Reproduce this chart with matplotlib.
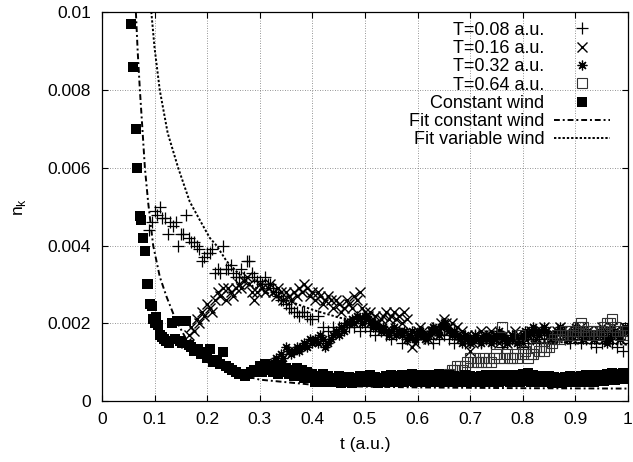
import numpy as np
import matplotlib
matplotlib.use("Agg")
import matplotlib.pyplot as plt

plt.rcParams["font.family"] = ["Liberation Sans", "DejaVu Sans"]

S = 1e-3  # values below are in units of 1e-3

# T=0.08 a.u. (+)
t08 = np.r_[np.arange(0.09, 0.3999, 0.005), np.arange(0.40, 1.0001, 0.01)]
n08 = np.array([
    4.4, 4.6, 4.9, 4.8, 5.0, 4.7, 4.7, 4.3, 4.6, 4.5,
    4.6, 4.0, 4.3, 4.3, 4.8, 4.2, 4.1, 4.1, 4.0, 3.9,
    3.6, 3.7, 3.8, 3.8, 3.9, 3.3, 3.4, 3.3, 4.0, 3.4,
    3.4, 3.5, 3.3, 3.2, 3.2, 3.4, 3.2, 3.6, 3.6, 3.3,
    3.2, 3.1, 3.1, 3.0, 3.2, 3.0, 3.0, 2.9, 2.8, 2.7,
    2.6, 2.6, 2.5, 2.4, 2.4, 2.3, 2.3, 2.2, 2.3, 2.3,
    2.2, 2.1,
    2.1, 2.2, 1.9, 1.8, 1.9, 1.9, 2.0, 1.9, 1.9, 1.8,
    1.9, 1.8, 1.7, 1.8, 1.7, 1.6, 1.7, 1.5, 1.6, 1.7,
    1.6, 1.7, 1.6, 1.5, 1.6, 1.7, 1.6, 1.5, 1.6, 1.5,
    1.6, 1.7, 1.5, 1.6, 1.5, 1.6, 1.4, 1.5, 1.6, 1.5,
    1.4, 1.5, 1.6, 1.5, 1.6, 1.5, 1.6, 1.7, 1.6, 1.5,
    1.6, 1.5, 1.6, 1.5, 1.4, 1.5, 1.6, 1.5, 1.4, 1.3,
    1.5,
])

# T=0.16 a.u. (x)
t16 = np.arange(0.16, 1.0001, 0.005)
n16 = np.array([
    1.5, 1.7, 1.9, 1.8, 2.1, 2.0, 2.3, 2.2, 2.5, 2.4,
    2.3, 2.6, 2.8, 2.7, 2.9, 2.6, 2.9, 2.8, 2.7, 2.9,
    3.0, 2.9, 3.1, 3.2, 3.0, 2.8, 2.6, 2.8, 3.0, 2.9,
    2.8, 2.9, 3.0, 2.8, 2.7, 2.9, 2.8, 2.6, 2.8, 2.7,
    2.6, 2.8, 2.7, 2.9, 2.8, 3.0, 2.9, 2.7, 2.8, 2.6,
    2.8, 2.7, 2.5, 2.6, 2.7, 2.6, 2.4, 2.6, 2.5, 2.3,
    2.4, 2.6, 2.5, 2.4, 2.7, 2.6, 2.8, 2.4, 2.3, 2.2,
    2.3, 2.1, 2.2, 2.0, 2.1, 2.2, 2.3, 2.1, 2.2, 2.3,
    2.1, 2.2, 2.0, 2.3, 2.1, 1.6, 1.4, 1.5, 1.8, 1.9,
    1.8, 1.7, 1.6, 1.7, 1.8, 1.9, 1.8, 2.0, 2.1, 2.0,
    1.9, 2.0, 1.8, 1.9, 1.7, 1.8, 1.6, 1.7, 1.3, 1.5,
    1.7, 1.6, 1.8, 1.7, 1.6, 1.7, 1.8, 1.7, 1.6, 1.5,
    1.6, 1.7, 1.5, 1.6, 1.7, 1.8, 1.7, 1.6, 1.5, 1.6,
    1.7, 1.8, 1.7, 1.6, 1.7, 1.8, 1.9, 1.8, 1.7, 1.6,
    1.7, 1.8, 1.9, 1.8, 1.7, 1.8, 1.7, 1.6, 1.7, 1.8,
    1.9, 1.8, 1.7, 1.8, 1.7, 1.6, 1.7, 1.8, 1.9, 1.8,
    1.7, 1.8, 1.9, 1.8, 1.7, 1.6, 1.8, 1.9, 1.8,
])

# T=0.32 a.u. (*)
t32 = np.arange(0.32, 1.0001, 0.005)
n32 = np.array([
    0.9, 1.0, 1.1, 1.0, 1.2, 1.1, 1.4, 1.3, 1.2, 1.3,
    1.4, 1.3, 1.4, 1.5, 1.4, 1.6, 1.5, 1.6, 1.5, 1.7,
    1.6, 1.4, 1.5, 1.6, 1.7, 1.8, 1.7, 1.9, 1.8, 2.0,
    2.0, 2.1, 2.0, 2.2, 2.1, 2.0, 2.2, 2.1, 2.0, 1.9,
    2.0, 1.9, 1.8, 1.9, 1.8, 1.7, 1.8, 1.9, 1.7, 1.8,
    1.7, 1.8, 1.6, 1.7, 1.8, 1.6, 1.7, 1.8, 1.7, 1.6,
    1.7, 1.8, 1.9, 1.8, 1.7, 1.9, 2.0, 1.9, 1.8, 1.7,
    1.8, 1.7, 1.6, 1.5, 1.7, 1.6, 1.5, 1.6, 1.7, 1.6,
    1.5, 1.6, 1.7, 1.6, 1.5, 1.6, 1.7, 1.8, 1.7, 1.6,
    1.5, 1.6, 1.7, 1.6, 1.5, 1.6, 1.7, 1.8, 1.7, 1.8,
    1.9, 1.8, 1.7, 1.8, 1.9, 1.8, 1.7, 1.6, 1.7, 1.8,
    1.9, 1.8, 1.7, 1.6, 1.7, 1.8, 1.9, 1.8, 1.7, 1.6,
    1.7, 1.8, 1.7, 1.6, 1.7, 1.8, 1.7, 1.6, 1.5, 1.6,
    1.7, 1.8, 1.7, 1.6, 1.8, 1.9, 1.8,
])

# T=0.64 a.u. (open squares)
t64 = np.arange(0.66, 1.0001, 0.005)
n64 = np.array([
    0.7, 0.8, 0.8, 0.9, 0.9, 0.8, 0.9, 1.0, 1.1, 1.0,
    1.1, 1.0, 1.0, 1.1, 1.0, 1.1, 1.0, 1.1, 1.2, 1.1,
    1.9, 1.1, 1.2, 1.1, 1.1, 1.2, 1.1, 1.7, 1.2, 1.3,
    1.1, 1.2, 1.2, 1.4, 1.3, 1.4, 1.3, 1.4, 1.4, 1.5,
    1.6, 1.7, 1.6, 1.7, 1.8, 1.7, 1.8, 1.7, 1.8, 1.9,
    2.0, 1.9, 1.8, 1.7, 1.8, 1.7, 1.8, 1.7, 1.8, 1.9,
    2.0, 2.0, 2.1, 1.9, 1.8, 1.7, 1.8, 1.8, 1.7,
])

# Constant wind (filled squares)
tcw = np.r_[
    [0.055, 0.060, 0.064, 0.067, 0.072, 0.075, 0.078, 0.081, 0.085, 0.088,
     0.092, 0.095, 0.098, 0.100, 0.103, 0.106, 0.110, 0.114, 0.118, 0.122,
     0.127, 0.133, 0.138, 0.143, 0.148, 0.153, 0.160, 0.165, 0.170, 0.176,
     0.182, 0.188, 0.194, 0.200, 0.206, 0.212, 0.218, 0.224, 0.230, 0.236,
     0.242, 0.248, 0.254, 0.260, 0.266, 0.272, 0.278, 0.284, 0.290, 0.296],
    np.arange(0.30, 1.0001, 0.005)]
ncw = np.array([
    9.7, 8.6, 7.0, 6.0, 4.75, 4.65, 4.2, 3.85, 3.0, 3.0,
    2.5, 2.45, 2.1, 2.0, 2.15, 1.95, 1.7, 1.65, 1.6, 1.55,
    1.5, 2.0, 1.6, 2.05, 1.55, 1.5, 2.05, 1.45, 1.4, 1.3,
    1.35, 1.2, 1.25, 1.1, 1.35, 1.0, 1.05, 0.95, 1.25, 0.9,
    0.85, 0.8, 0.75, 0.7, 0.7, 0.65, 0.7, 0.75, 0.8, 0.75,
    0.9, 0.75, 0.95, 0.8, 0.9, 0.75, 0.85, 0.7, 0.9, 0.75,
    0.85, 0.7, 0.8, 0.65, 0.85, 0.7, 0.8, 0.6, 0.75, 0.6,
    0.7, 0.5, 0.65, 0.5, 0.7, 0.48, 0.65, 0.5, 0.6, 0.48,
    0.65, 0.47, 0.6, 0.48, 0.62, 0.46, 0.6, 0.5, 0.65, 0.48,
    0.62, 0.48, 0.66, 0.5, 0.62, 0.47, 0.6, 0.48, 0.64, 0.5,
    0.66, 0.5, 0.64, 0.48, 0.68, 0.5, 0.66, 0.52, 0.7, 0.5,
    0.68, 0.52, 0.66, 0.5, 0.64, 0.48, 0.66, 0.5, 0.7, 0.52,
    0.68, 0.5, 0.66, 0.48, 0.64, 0.5, 0.62, 0.48, 0.66, 0.5,
    0.64, 0.5, 0.62, 0.48, 0.64, 0.5, 0.66, 0.5, 0.64, 0.48,
    0.66, 0.5, 0.68, 0.52, 0.66, 0.5, 0.64, 0.48, 0.66, 0.5,
    0.7, 0.52, 0.72, 0.5, 0.66, 0.48, 0.64, 0.5, 0.62, 0.48,
    0.64, 0.46, 0.62, 0.48, 0.6, 0.46, 0.62, 0.48, 0.64, 0.5,
    0.62, 0.48, 0.64, 0.5, 0.66, 0.5, 0.64, 0.5, 0.66, 0.52,
    0.68, 0.52, 0.7, 0.54, 0.72, 0.54, 0.7, 0.56, 0.72, 0.56,
    0.7,
])

# fits
tfc = [0.062, 0.0646, 0.068, 0.0722, 0.077, 0.0817, 0.088, 0.0975, 0.11, 0.123,
       0.14, 0.16, 0.18, 0.2, 0.25, 0.3, 0.4, 0.5, 0.6, 0.8, 1.0]
nfc = [10.9, 10.0, 9.0, 8.0, 7.0, 6.0, 5.1, 4.0, 3.2, 2.68,
       2.1, 1.6, 1.3, 1.05, 0.72, 0.55, 0.42, 0.37, 0.35, 0.33, 0.32]
tfv = [0.090, 0.094, 0.100, 0.110, 0.125, 0.145, 0.167, 0.186, 0.205, 0.218,
       0.237, 0.262, 0.287, 0.32, 0.35, 0.40, 0.45, 0.5, 0.6, 0.7, 0.8, 0.9, 1.0]
nfv = [10.6, 10.0, 9.1, 8.0, 6.9, 6.0, 5.13, 4.66, 4.2, 4.0,
       3.6, 3.25, 2.95, 2.75, 2.6, 2.35, 2.15, 2.0, 1.8, 1.65, 1.55, 1.5, 1.45]

fig = plt.figure(figsize=(6.33, 4.62), dpi=100)
ax = fig.add_axes([0.161, 0.132, 0.831, 0.841])

ms = 7
ax.plot(t08, n08 * S, ls="none", marker="+", ms=ms + 1, mew=0.9, color="k", label="T=0.08 a.u.")
ax.plot(t16, n16 * S, ls="none", marker="x", ms=ms, mew=1.0, color="k", label="T=0.16 a.u.")
ax.plot(t32, n32 * S, ls="none", marker=(8, 2, 0), ms=ms, mew=0.9, color="k", label="T=0.32 a.u.")
ax.plot(t64, n64 * S, ls="none", marker="s", ms=ms - 0.5, mew=0.8, mfc="none", color="0.2", label="T=0.64 a.u.")
ax.plot(tcw, ncw * S, ls="none", marker="s", ms=ms, mew=0, color="k", label="Constant wind")
ax.plot(tfc, np.array(nfc) * S, color="k", lw=1.4, dashes=[3, 1.5, 1, 1.5], label="Fit constant wind")
ax.plot(tfv, np.array(nfv) * S, color="k", lw=1.4, dashes=[1.2, 1.0], label="Fit variable wind")

ax.set_xlim(0, 1)
ax.set_ylim(0, 0.01)
ax.set_xticks(np.arange(0, 1.01, 0.1))
ax.set_xticklabels(["0", "0.1", "0.2", "0.3", "0.4", "0.5", "0.6", "0.7", "0.8", "0.9", "1"])
ax.set_yticks(np.arange(0, 0.0101, 0.002))
ax.set_yticklabels(["0", "0.002", "0.004", "0.006", "0.008", "0.01"])
ax.tick_params(direction="in", top=True, right=True, length=4.5, width=0.8, labelsize=12.5, pad=8)
ax.grid(True, color="0.45", lw=0.6, dashes=[1, 2])
for sp in ax.spines.values():
    sp.set_linewidth(0.9)

ax.set_xlabel("t (a.u.)", fontsize=12.5, labelpad=7)
ax.set_ylabel(r"n$_\mathregular{k}$", fontsize=12.5, labelpad=14)

leg = ax.legend(loc="upper right", bbox_to_anchor=(0.966, 0.976), markerfirst=False,
                frameon=False, fontsize=13, handlelength=3.1, handletextpad=0.55,
                labelspacing=0.07, borderaxespad=0, borderpad=0)
fig.savefig("out.png", dpi=100)
